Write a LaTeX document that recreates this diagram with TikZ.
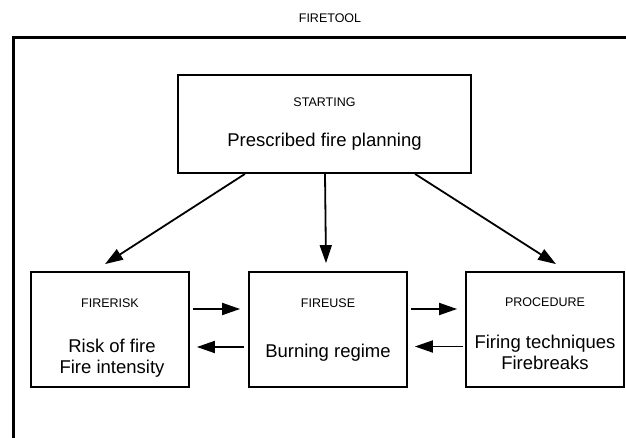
\documentclass[tikz,border=0pt]{standalone}
\usepackage{fontspec}
\setmainfont{Liberation Sans}
\usetikzlibrary{arrows.meta}
\tikzset{
  box/.style={draw, line width=1.8pt, minimum width=158pt, minimum height=115pt, inner sep=0pt},
  ttl/.style={font=\fontsize{12.5}{14}\selectfont, inner sep=0pt},
  txt/.style={font=\fontsize{18.5}{20.5}\selectfont, align=center, inner sep=0pt},
  arr/.style={line width=1.8pt, -{Triangle[length=18pt,width=12pt]}}
}
\begin{document}
\begin{tikzpicture}[x=1pt,y=-1pt]
\useasboundingbox (0,0) rectangle (626,438);
\node[ttl] (tool) at (330,18){FIRETOOL};
\draw[line width=3pt] (13,438) -- (13,38) -- (626,38);
\node[box, minimum width=293pt, minimum height=98pt] (start) at (324.5,124){};
\node[ttl] (start-t) at (324.5,102){STARTING};
\node[txt] (start-m) at (324.5,142){Prescribed fire planning};
\node[box] (risk) at (110,329.5){};
\node[ttl] (risk-t) at (110,303){FIRERISK};
\node[txt] (risk-m) at (112,358){Risk of fire\\Fire intensity};
\node[box] (use) at (328,329.5){};
\node[ttl] (use-t) at (328,303){FIREUSE};
\node[txt] (use-m) at (328,353){Burning regime};
\node[box] (proc) at (545,329.5){};
\node[ttl] (proc-t) at (545,302){PROCEDURE};
\node[txt] (proc-m) at (545,352.5){Firing techniques\\Firebreaks};
\draw[arr] ([xshift=-79.5pt]start.south) -- ([xshift=-5pt,yshift=7pt]risk.north);
\draw[arr] ([xshift=0.5pt]start.south) -- ([xshift=-2pt,yshift=8pt]use.north);
\draw[arr] ([xshift=90.5pt]start.south) -- ([xshift=11pt,yshift=7pt]proc.north);
\draw[arr] ([xshift=3pt,yshift=20.5pt]risk.east) -- ([xshift=-8pt,yshift=20.5pt]use.west);
\draw[arr] ([xshift=-4pt,yshift=-17.5pt]use.west) -- ([xshift=7pt,yshift=-17.5pt]risk.east);
\draw[arr] ([xshift=3pt,yshift=20.5pt]use.east) -- ([xshift=-8pt,yshift=20.5pt]proc.west);
\draw[arr] ([xshift=-2pt,yshift=-17pt]proc.west) -- ([xshift=7pt,yshift=-17pt]use.east);
\end{tikzpicture}
\end{document}
